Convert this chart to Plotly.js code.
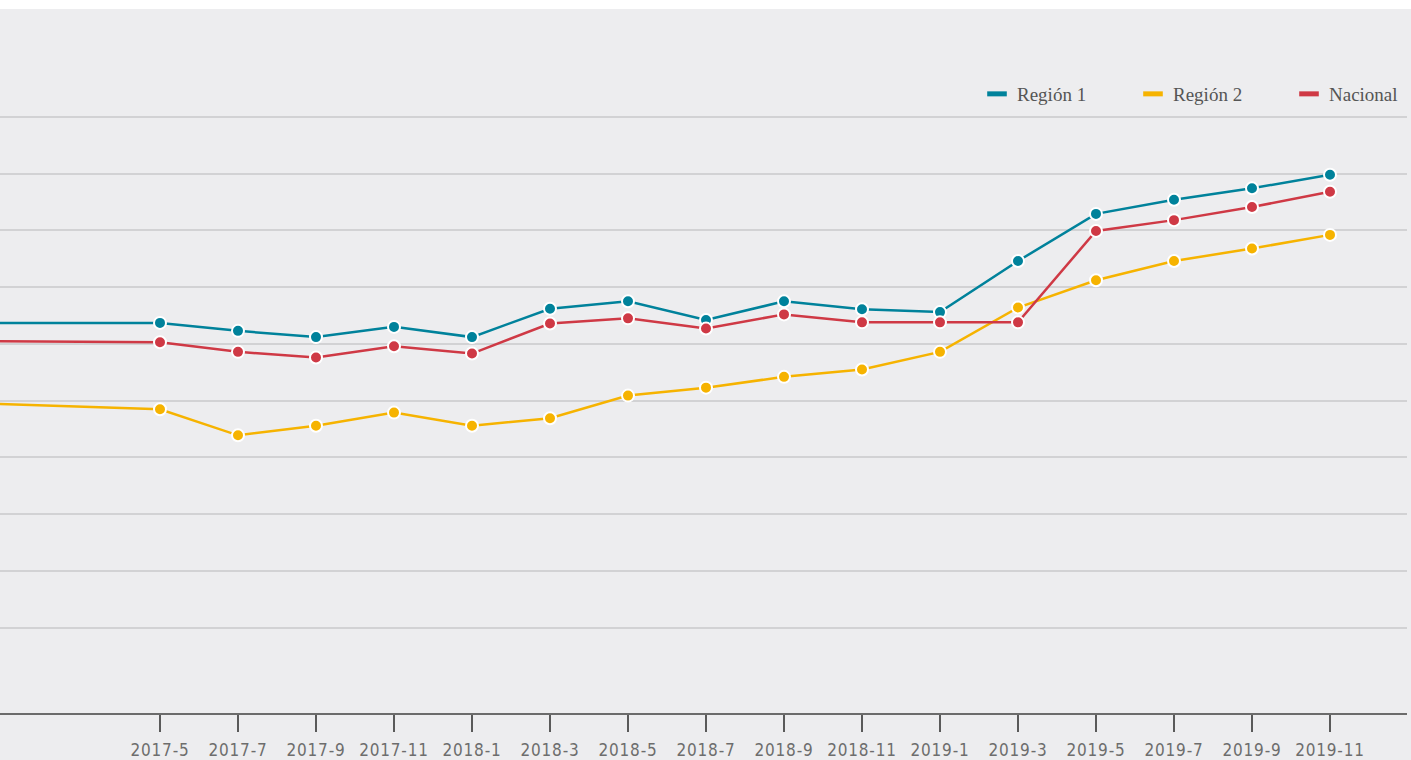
<!DOCTYPE html>
<html><head><meta charset="utf-8">
<script src="https://cdn.plot.ly/plotly-3.0.1.min.js"></script>
<style>
html,body{margin:0;padding:0;background:#ffffff;}
#chart{position:absolute;left:0;top:9px;width:1411px;height:751px;}
.xtick text{letter-spacing:0.8px;}
</style></head><body><div id="chart"></div>
<script>
// periods (year-month)
const periods = ['2016-12','2017-5','2017-7','2017-9','2017-11','2018-1','2018-3','2018-5','2018-7','2018-9','2018-11','2019-1','2019-3','2019-5','2019-7','2019-9','2019-11'];
const region1  = [68.7, 68.7, 67.3, 66.2, 68.0, 66.2, 71.2, 72.5, 69.2, 72.5, 71.1, 70.6, 79.6, 87.9, 90.4, 92.4, 94.8];
const region2  = [54.6, 53.5, 48.9, 50.6, 52.9, 50.6, 51.9, 55.9, 57.3, 59.2, 60.5, 63.6, 71.4, 76.2, 79.6, 81.8, 84.2];
const nacional = [65.5, 65.3, 63.6, 62.6, 64.6, 63.3, 68.6, 69.5, 67.7, 70.2, 68.8, 68.8, 68.8, 84.9, 86.8, 89.1, 91.8];
const seriesNames = ['Región 1','Región 2','Nacional'];
const tickLabels = ['2017-5','2017-7','2017-9','2017-11','2018-1','2018-3','2018-5','2018-7','2018-9','2018-11','2019-1','2019-3','2019-5','2019-7','2019-9','2019-11'];
const gridValues = [15,25,35,45,55,65,75,85,95,105];

function monthIndex(p){ const parts = p.split('-').map(Number); return (parts[0]-2017)*12 + parts[1]; }
const xs = periods.map(monthIndex);
const colors = ['#00829b','#f6b300','#cf3945'];
const values = [region1, region2, nacional];

const traces = [];
values.forEach((v,i)=>{
  traces.push({
    x: xs, y: v, type:'scatter', mode:'lines+markers', showlegend:false,
    name: seriesNames[i],
    line:{color:colors[i], width:2.5},
    marker:{color:colors[i], size:12, line:{color:'#ffffff', width:2}}
  });
});
// legend entries
values.forEach((v,i)=>{
  traces.push({
    x:[null], y:[null], type:'scatter', mode:'markers', name: seriesNames[i], showlegend:true,
    marker:{symbol:'line-ew', size:14, color:colors[i], line:{color:colors[i], width:5}}
  });
});

const plotTop = 51, plotH = 653;
const layout = {
  width:1411, height:751,
  paper_bgcolor:'#ededef', plot_bgcolor:'#ededef',
  margin:{l:0, r:4, t:plotTop, b:47, autoexpand:false},
  showlegend:true,
  legend:{orientation:'h', xref:'paper', yref:'paper', x:977/1407, xanchor:'left', y:(713-94)/plotH, yanchor:'middle',
          bgcolor:'rgba(0,0,0,0)', font:{family:'Liberation Serif, DejaVu Serif, serif', size:19, color:'#555555'},
          entrywidthmode:'pixels', entrywidth:111, traceorder:'normal'},
  xaxis:{range:[5-160/39, 5+1247/39], tickmode:'array', tickvals:tickLabels.map(monthIndex), ticktext:tickLabels,
         ticks:'outside', ticklen:17, tickwidth:2, tickcolor:'#5a5a5a', showline:true, linecolor:'#6b6b6b', linewidth:2,
         showgrid:false, zeroline:false, automargin:false, ticklabelstandoff:4,
         tickfont:{family:'Liberation Sans Narrow, DejaVu Sans Condensed, Roboto, sans-serif', size:17, color:'#6d6d6d'}},
  yaxis:{range:[0,115], tickmode:'array', tickvals:gridValues, showticklabels:false, ticks:'',
         showgrid:true, gridcolor:'#d2d2d4', gridwidth:2, zeroline:false, showline:false, automargin:false}
};
Plotly.newPlot('chart', traces, layout, {displayModeBar:false, staticPlot:true});
</script></body></html>
